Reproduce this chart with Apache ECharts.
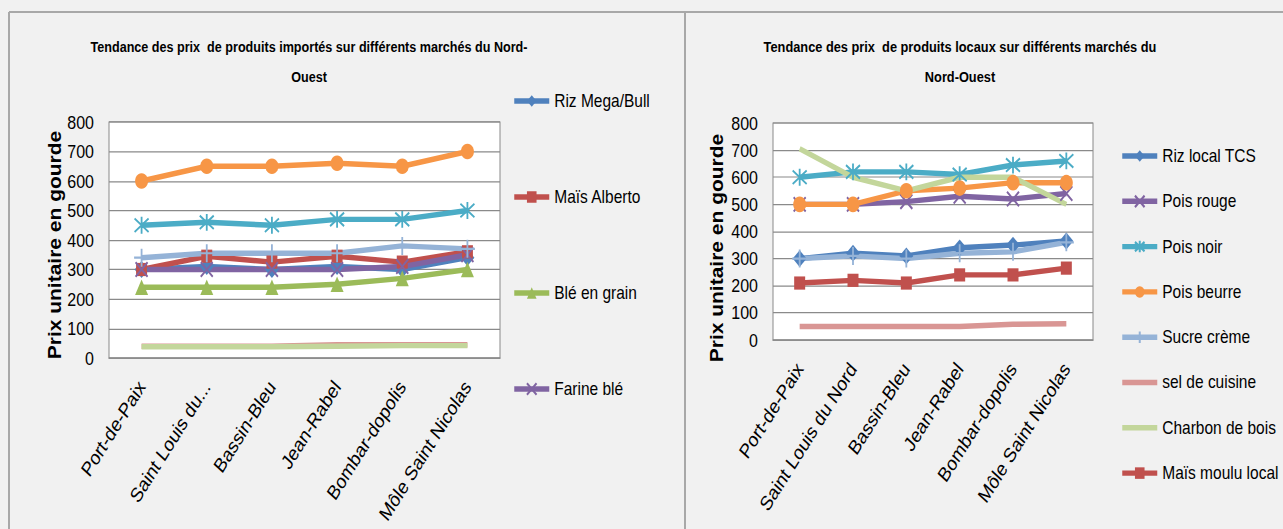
<!DOCTYPE html>
<html><head><meta charset="utf-8">
<script src="https://cdn.jsdelivr.net/npm/echarts@6/dist/echarts.min.js"></script>
<style>html,body{margin:0;padding:0;background:#f1f1f1;width:1283px;height:529px;}
#c{width:1283px;height:441px;transform:scaleY(1.2);transform-origin:0 0;}</style>
</head><body><div id="c"></div>
<script>
const categoriesLeft = ['Port-de-Paix','Saint Louis du...','Bassin-Bleu','Jean-Rabel','Bombar-dopolis','Môle Saint Nicolas'];
const categoriesRight = ['Port-de-Paix','Saint Louis du Nord','Bassin-Bleu','Jean-Rabel','Bombar-dopolis','Môle Saint Nicolas'];
const yTicks = [0,100,200,300,400,500,600,700,800];

// Left chart (imported products)
const rizMegaBull = [300, 310, 300, 310, 300, 340];
const maisAlberto = [300, 345, 325, 345, 325, 360];
const bleEnGrain = [240, 240, 240, 250, 270, 300];
const farineBle = [300, 300, 300, 300, 310, 350];
const serie5 = [450, 460, 450, 470, 470, 500];
const serie6 = [600, 650, 650, 660, 650, 700];
const serie7 = [340, 355, 355, 355, 380, 370];
const serie8 = [40, 40, 40, 45, 45, 45];
const serie9 = [38, 38, 38, 40, 42, 42];

// Right chart (local products)
const rizLocalTCS = [300, 320, 310, 340, 350, 365];
const poisRouge = [500, 500, 510, 530, 520, 540];
const poisNoir = [600, 620, 620, 610, 645, 660];
const poisBeurre = [500, 500, 550, 560, 580, 580];
const sucreCreme = [300, 310, 300, 320, 325, 360];
const selDeCuisine = [50, 50, 50, 50, 58, 60];
const charbonDeBois = [705, 600, 550, 600, 600, 500];
const maisMouluLocal = [210, 220, 210, 240, 240, 265];

const S = 1.2; // vertical stretch applied to the whole drawing
const Y = v => v / S;
const FONT = "'Liberation Sans', Arial, sans-serif";
const C = {blue:'#4F81BD', red:'#C0504D', green:'#9BBB59', purple:'#8064A2', aqua:'#4BACC6', orange:'#F79646', lblue:'#95B3D7', pink:'#D99694', lgreen:'#C3D69B'};
const SYM = {
  diamond:'diamond', square:'rect', triangle:'triangle', circle:'circle',
  x:'path://M0,0L10,10M10,0L0,10',
  star:'path://M1,1L9,9M9,1L1,9M5,0L5,10',
  plus:'path://M5,0L5,10M0,5L10,5',
  none:'none'
};
const SIZE = {diamond:14, square:11, triangle:13, circle:13, x:12, star:14, plus:15, none:0};

function mk(name, data, color, sym, idx) {
  return {
    name, type:'line', data, xAxisIndex:idx, yAxisIndex:idx,
    symbol: SYM[sym], symbolSize: SIZE[sym], showSymbol: sym !== 'none',
    lineStyle:{color, width:4.5},
    itemStyle:{color, borderColor:color, borderWidth: (sym==='x'||sym==='star'||sym==='plus') ? 1.8 : 0},
    emphasis:{disabled:true}, animation:false
  };
}

const axisLabelStyle = {color:'#000', fontFamily:FONT, fontSize:16};
function yAx(idx) {
  return {
    type:'value', gridIndex:idx, min:0, max:800, interval:100,
    axisLine:{show:false}, axisTick:{show:false},
    splitLine:{lineStyle:{color:'#8a8a8a', width:1}},
    axisLabel:Object.assign({margin:15}, axisLabelStyle)
  };
}
function xAx(idx, cats) {
  return {
    type:'category', gridIndex:idx, data:cats, boundaryGap:true,
    axisLine:{lineStyle:{color:'#8a8a8a', width:1}}, axisTick:{show:false},
    axisLabel:Object.assign({margin:21, rotate:53, interval:0}, axisLabelStyle, {fontSize:17})
  };
}
const legendText = {fontFamily:FONT, fontSize:15.5, color:'#000', lineHeight:16};
const noMark = {opacity:0};

const option = {
  backgroundColor:'#f1f1f1',
  animation:false,
  title:[
    {text:'Tendance des prix  de produits importés sur différents marchés du Nord-\nOuest', left:309, top:Y(47)-12.5, textAlign:'center', padding:0,
     textStyle:{fontFamily:FONT, fontWeight:'bold', fontSize:12.6, lineHeight:25, color:'#000'}},
    {text:'Tendance des prix  de produits locaux sur différents marchés du\nNord-Ouest', left:960, top:Y(47)-12.5, textAlign:'center', padding:0,
     textStyle:{fontFamily:FONT, fontWeight:'bold', fontSize:12.8, lineHeight:25, color:'#000'}}
  ],
  grid:[
    {left:109, top:Y(122), width:391, height:Y(358)-Y(122), show:true, backgroundColor:'#fff', borderColor:'#8a8a8a', borderWidth:1},
    {left:773, top:Y(123), width:320, height:Y(340)-Y(123), show:true, backgroundColor:'#fff', borderColor:'#8a8a8a', borderWidth:1}
  ],
  xAxis:[xAx(0, categoriesLeft), xAx(1, categoriesRight)],
  yAxis:[yAx(0), yAx(1)],
  legend:[
    {orient:'vertical', left:512, top:Y(101)-8, itemGap:Y(96)-16, itemWidth:35, itemHeight:12, padding:0,
     lineStyle:{width:4.5},
     data:['Riz Mega/Bull','Maïs Alberto','Blé en grain','Farine blé'],
     textStyle:legendText, selectedMode:false},
    {orient:'vertical', left:1120, top:Y(156)-8, itemGap:Y(45.3)-16, itemWidth:35, itemHeight:12, padding:0,
     lineStyle:{width:4.5},
     data:['Riz local TCS','Pois rouge','Pois noir','Pois beurre','Sucre crème',
           {name:'sel de cuisine', itemStyle:noMark},{name:'Charbon de bois', itemStyle:noMark},'Maïs moulu local'],
     textStyle:legendText, selectedMode:false}
  ],
  series:[
    mk('Riz Mega/Bull', rizMegaBull, C.blue, 'diamond', 0),
    mk('Maïs Alberto', maisAlberto, C.red, 'square', 0),
    mk('Blé en grain', bleEnGrain, C.green, 'triangle', 0),
    mk('Farine blé', farineBle, C.purple, 'x', 0),
    mk('Série 5', serie5, C.aqua, 'star', 0),
    mk('Série 6', serie6, C.orange, 'circle', 0),
    mk('Série 7', serie7, C.lblue, 'plus', 0),
    mk('Série 8', serie8, C.pink, 'none', 0),
    mk('Série 9', serie9, C.lgreen, 'none', 0),
    mk('Riz local TCS', rizLocalTCS, C.blue, 'diamond', 1),
    mk('Pois rouge', poisRouge, C.purple, 'x', 1),
    mk('Pois noir', poisNoir, C.aqua, 'star', 1),
    mk('Pois beurre', poisBeurre, C.orange, 'circle', 1),
    mk('Sucre crème', sucreCreme, C.lblue, 'plus', 1),
    mk('sel de cuisine', selDeCuisine, C.pink, 'none', 1),
    mk('Charbon de bois', charbonDeBois, C.lgreen, 'none', 1),
    mk('Maïs moulu local', maisMouluLocal, C.red, 'square', 1)
  ],
  graphic:[
    {type:'line', shape:{x1:9, y1:Y(12), x2:1283, y2:Y(12)}, style:{stroke:'#a8a8a8', lineWidth:1.6}, silent:true},
    {type:'line', shape:{x1:9, y1:Y(12), x2:9, y2:441}, style:{stroke:'#a8a8a8', lineWidth:2}, silent:true},
    {type:'line', shape:{x1:685, y1:Y(12), x2:685, y2:441}, style:{stroke:'#a8a8a8', lineWidth:2}, silent:true},
    {type:'text', x:55, y:Y(245), rotation:Math.PI/2, silent:true,
     style:{text:'Prix unitaire en gourde', fill:'#000', fontFamily:FONT, fontWeight:'bold', fontSize:17.5, align:'center', verticalAlign:'middle', textAlign:'center', textVerticalAlign:'middle'}},
    {type:'text', x:717, y:Y(248), rotation:Math.PI/2, silent:true,
     style:{text:'Prix unitaire en gourde', fill:'#000', fontFamily:FONT, fontWeight:'bold', fontSize:17.5, align:'center', verticalAlign:'middle', textAlign:'center', textVerticalAlign:'middle'}}
  ]
};
const chart = echarts.init(document.getElementById('c'), null, {renderer:'svg'});
chart.setOption(option);
</script></body></html>
